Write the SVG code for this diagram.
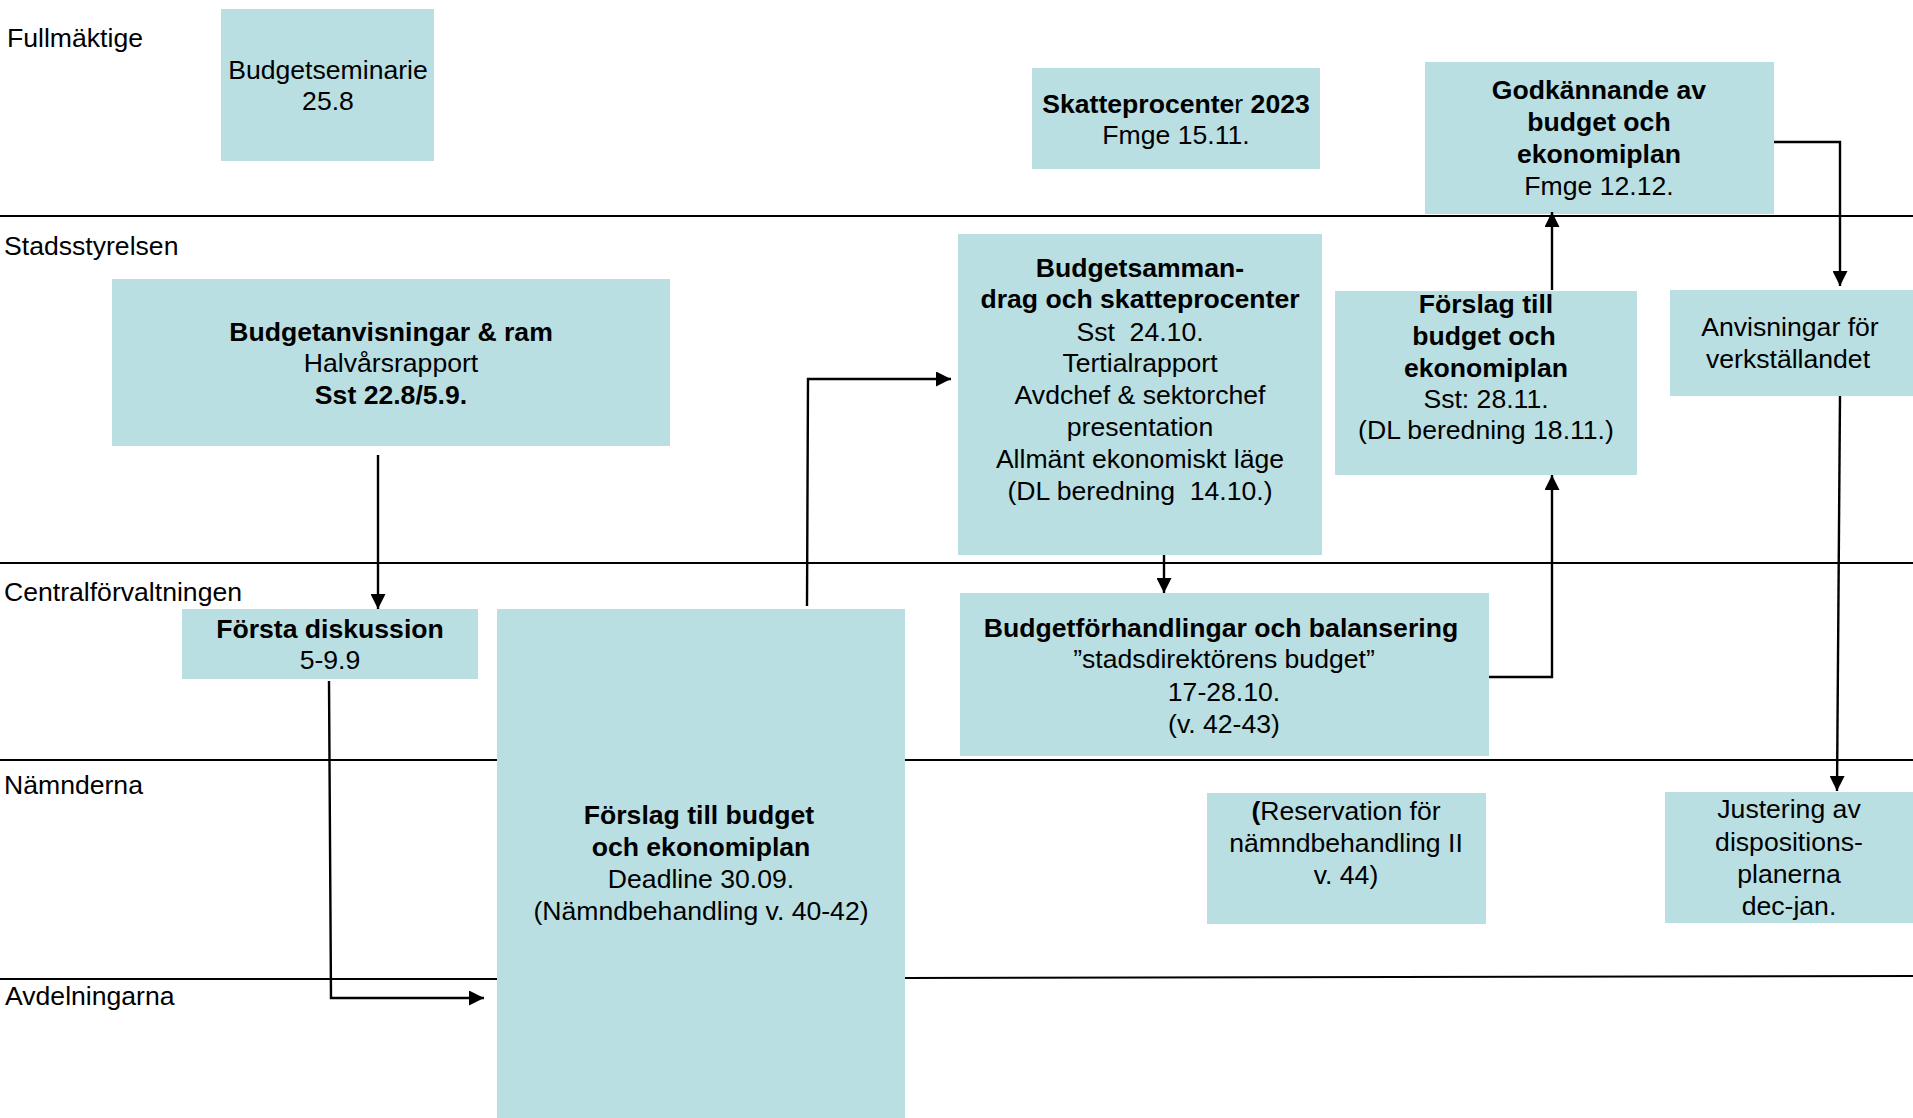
<svg xmlns="http://www.w3.org/2000/svg" width="1913" height="1118" viewBox="0 0 1913 1118">
<style>
text{font-family:"Liberation Sans",Arial,sans-serif;font-size:26.6px;fill:#000}
.c{text-anchor:middle}
.b{font-weight:bold}
.box{fill:#B9DFE2}
.lane{stroke:#000;stroke-width:2;fill:none}
.con{stroke:#000;stroke-width:2.4;fill:none}
</style>
<defs>
<marker id="ah" viewBox="0 0 10 10" refX="10" refY="5" markerWidth="15" markerHeight="15" markerUnits="userSpaceOnUse" orient="auto">
<path d="M0,0 L10,5 L0,10 z" fill="#000"/>
</marker>
</defs>
<rect width="1913" height="1118" fill="#fff"/>
<g id="lanes">
<line class="lane" x1="0" y1="216" x2="1913" y2="216"/>
<line class="lane" x1="0" y1="563" x2="1913" y2="563"/>
<line class="lane" x1="0" y1="760" x2="497" y2="760"/>
<line class="lane" x1="905" y1="760" x2="1913" y2="760"/>
<line class="lane" x1="0" y1="979" x2="497" y2="979"/>
<line class="lane" x1="905" y1="978" x2="1913" y2="976"/>
<text x="7" y="47">Fullmäktige</text>
<text x="4" y="255">Stadsstyrelsen</text>
<text x="4" y="601">Centralförvaltningen</text>
<text x="4" y="794">Nämnderna</text>
<text x="5" y="1005">Avdelningarna</text>
</g>
<g id="n-budgetseminarie">
<rect class="box" x="221" y="9" width="213" height="152"/>
<text class="c" x="328" y="79">Budgetseminarie</text>
<text class="c" x="328" y="110">25.8</text>
</g>
<g id="n-skatteprocenter">
<rect class="box" x="1032" y="68" width="288" height="101"/>
<text class="c" x="1176" y="113"><tspan class="b">Skatteprocente</tspan>r<tspan class="b"> 2023</tspan></text>
<text class="c" x="1176" y="144">Fmge 15.11.</text>
</g>
<g id="n-godkannande">
<rect class="box" x="1425" y="62" width="349" height="152"/>
<text class="c b" x="1599" y="99">Godkännande av</text>
<text class="c b" x="1599" y="131">budget och</text>
<text class="c b" x="1599" y="163">ekonomiplan</text>
<text class="c" x="1599" y="195">Fmge 12.12.</text>
</g>
<g id="n-budgetanvisningar">
<rect class="box" x="112" y="279" width="558" height="167"/>
<text class="c b" x="391" y="341">Budgetanvisningar &amp; ram</text>
<text class="c" x="391" y="372">Halvårsrapport</text>
<text class="c b" x="391" y="404">Sst 22.8/5.9.</text>
</g>
<g id="n-budgetsammandrag">
<rect class="box" x="958" y="234" width="364" height="321"/>
<text class="c b" x="1140" y="277">Budgetsamman-</text>
<text class="c b" x="1140" y="308">drag och skatteprocenter</text>
<text class="c" x="1140" y="341" xml:space="preserve">Sst  24.10.</text>
<text class="c" x="1140" y="372">Tertialrapport</text>
<text class="c" x="1140" y="404">Avdchef &amp; sektorchef</text>
<text class="c" x="1140" y="436">presentation</text>
<text class="c" x="1140" y="468">Allmänt ekonomiskt läge</text>
<text class="c" x="1140" y="500" xml:space="preserve">(DL beredning  14.10.)</text>
</g>
<g id="n-forslag-sst">
<rect class="box" x="1335" y="291" width="302" height="184"/>
<text class="c b" x="1486" y="313">Förslag till</text>
<text class="c b" x="1484" y="345">budget och</text>
<text class="c b" x="1486" y="377">ekonomiplan</text>
<text class="c" x="1486" y="408">Sst: 28.11.</text>
<text class="c" x="1486" y="439">(DL beredning 18.11.)</text>
</g>
<g id="n-anvisningar">
<rect class="box" x="1670" y="290" width="243" height="106"/>
<text class="c" x="1790" y="336">Anvisningar för</text>
<text class="c" x="1788" y="368">verkställandet</text>
</g>
<g id="n-forsta">
<rect class="box" x="182" y="609" width="296" height="70"/>
<text class="c b" x="330" y="638">Första diskussion</text>
<text class="c" x="330" y="669">5-9.9</text>
</g>
<g id="n-forslag-namnd">
<rect class="box" x="497" y="609" width="408" height="509"/>
<text class="c b" x="699" y="824">Förslag till budget</text>
<text class="c b" x="701" y="856">och ekonomiplan</text>
<text class="c" x="701" y="888">Deadline 30.09.</text>
<text class="c" x="701" y="920">(Nämndbehandling v. 40-42)</text>
</g>
<g id="n-budgetforhandlingar">
<rect class="box" x="960" y="593" width="529" height="163"/>
<text class="c b" x="1221" y="637">Budgetförhandlingar och balansering</text>
<text class="c" x="1224" y="668">”stadsdirektörens budget”</text>
<text class="c" x="1224" y="701">17-28.10.</text>
<text class="c" x="1224" y="733">(v. 42-43)</text>
</g>
<g id="n-reservation">
<rect class="box" x="1207" y="793" width="279" height="131"/>
<text class="c" x="1346" y="820"><tspan class="b">(</tspan>Reservation för</text>
<text class="c" x="1346" y="852">nämndbehandling II</text>
<text class="c" x="1346" y="884">v. 44)</text>
</g>
<g id="n-justering">
<rect class="box" x="1665" y="792" width="248" height="131"/>
<text class="c" x="1789" y="818">Justering av</text>
<text class="c" x="1789" y="851">dispositions-</text>
<text class="c" x="1789" y="883">planerna</text>
<text class="c" x="1789" y="915">dec-jan.</text>
</g>
<g id="connectors">
<path class="con" d="M378,455 L378,609" marker-end="url(#ah)"/>
<path class="con" d="M329,681 L331,998 L484,998" marker-end="url(#ah)"/>
<path class="con" d="M807,606 L808,379 L951,379" marker-end="url(#ah)"/>
<path class="con" d="M1164,555 L1164,593" marker-end="url(#ah)"/>
<path class="con" d="M1489,677 L1552,677 L1552,475" marker-end="url(#ah)"/>
<path class="con" d="M1552,290 L1552,212" marker-end="url(#ah)"/>
<path class="con" d="M1774,142 L1840,142 L1840,286" marker-end="url(#ah)"/>
<path class="con" d="M1840,396 L1837,791" marker-end="url(#ah)"/>
</g>
</svg>
